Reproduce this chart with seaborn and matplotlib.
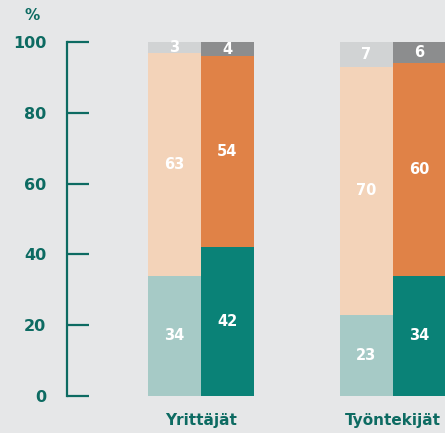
import matplotlib
matplotlib.use("Agg")
import matplotlib.pyplot as plt
import seaborn as sns
import pandas as pd

# data
groups = ["Yrittäjät", "Työntekijät"]
series = ["vasen", "oikea"]
bottom_vals = {"vasen": [34, 23], "oikea": [42, 34]}
middle_vals = {"vasen": [63, 70], "oikea": [54, 60]}
top_vals = {"vasen": [3, 7], "oikea": [4, 6]}
yticks = [0, 20, 40, 60, 80, 100]

bg = "#e6e7e8"
ink = "#0d6b62"
colors = {
    "top": ["#d1d3d4", "#8c8d8e"],
    "middle": ["#f3d3b9", "#e08247"],
    "bottom": ["#a6cac6", "#0a8277"],
}

sns.set_theme(style="white")
plt.rcParams["font.family"] = ["DejaVu Sans"]

fig = plt.figure(figsize=(4.45, 4.33), dpi=100, facecolor=bg)
ax = fig.add_axes([67 / 445, 37 / 433, (445 - 67) / 445, 354 / 433])
ax.set_facecolor(bg)


def layer_frame(which):
    rows = []
    for s in series:
        for i, g in enumerate(groups):
            b = bottom_vals[s][i]
            m = middle_vals[s][i]
            t = top_vals[s][i]
            cum = {"bottom": b, "middle": b + m, "top": b + m + t}[which]
            lo = {"bottom": 0, "middle": b, "top": b + m}[which]
            rows.append({"ryhmä": g, "sarja": s, "arvo": cum, "ala": lo,
                         "osa": cum - lo})
    return pd.DataFrame(rows)


# draw cumulative layers from the top down so each hides the part below
for which in ["top", "middle", "bottom"]:
    df = layer_frame(which)
    n_before = len(ax.containers)
    sns.barplot(data=df, x="ryhmä", y="arvo", hue="sarja", order=groups,
                hue_order=series, palette=colors[which], width=0.552,
                saturation=1, legend=False, ax=ax, errorbar=None,
                linewidth=0, edgecolor="none")
    for cont, s in zip(ax.containers[n_before:], series):
        sub = df[df["sarja"] == s].set_index("ryhmä").loc[groups]
        for rect, lo, part in zip(cont, sub["ala"], sub["osa"]):
            ax.text(rect.get_x() + rect.get_width() / 2, lo + part / 2,
                    f"{part:g}", ha="center", va="center", color="white",
                    fontsize=10.5, fontweight="bold")

ax.set_xlim(-0.698, 1.271)
ax.set_ylim(0, 100)
ax.set_yticks(yticks)
ax.set_xlabel("")
ax.set_ylabel("")
for side in ["top", "right", "bottom"]:
    ax.spines[side].set_visible(False)
ax.spines["left"].set_color(ink)
ax.spines["left"].set_linewidth(1.6)
ax.tick_params(axis="y", left=True, direction="in", length=16, width=1.6,
               color=ink, pad=15, labelsize=11.5, labelcolor=ink)
ax.tick_params(axis="x", bottom=False, length=0, pad=12, labelsize=11,
               labelcolor=ink)
for lab in ax.get_yticklabels() + ax.get_xticklabels():
    lab.set_fontweight("bold")

fig.text(32 / 445, 1 - 16 / 433, "%", ha="center", va="center",
         color=ink, fontsize=11, fontweight="bold")

fig.savefig("out.png", dpi=100, facecolor=bg)
